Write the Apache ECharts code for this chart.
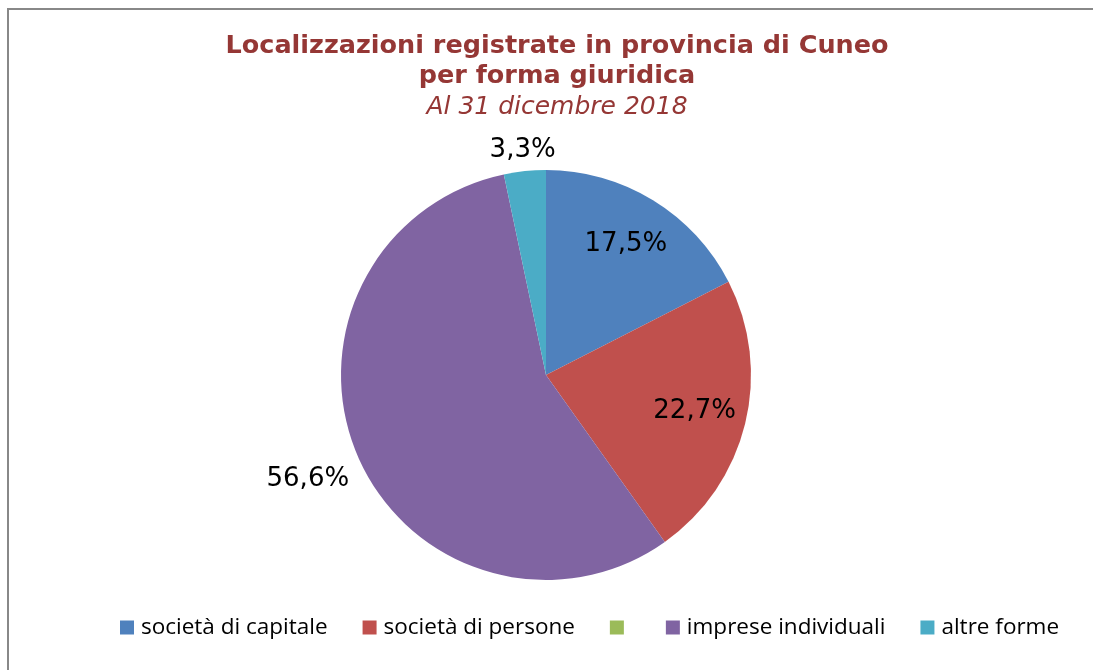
<!DOCTYPE html>
<html>
<head>
<meta charset="utf-8">
<script src="https://cdn.jsdelivr.net/npm/echarts@6/dist/echarts.min.js"></script>
<style>
  html, body { margin: 0; padding: 0; background: #fff; }
  #chart { width: 1093px; height: 670px; }
</style>
</head>
<body>
<div id="chart"></div>
<script>
// dati: localizzazioni per forma giuridica, Cuneo, 31/12/2018
var categories = ['società di capitale', 'società di persone', '\u200b', 'imprese individuali', 'altre forme'];
var values = [17.5, 22.7, 0, 56.6, 3.3];
var sliceLabels = ['17,5%', '22,7%', '', '56,6%', '3,3%'];
var colors = ['#4F81BD', '#C0504D', '#9BBB59', '#8064A2', '#4BACC6'];

var center = [546, 375];
var ghost = 'rgba(0,0,0,0)';

// serie fantasma solo per piazzare le etichette alla distanza giusta
function labelSeries(radius, showIdx) {
  return {
    type: 'pie',
    center: center,
    radius: radius,
    startAngle: 90,
    clockwise: true,
    silent: true,
    z: 3,
    itemStyle: { color: ghost, borderWidth: 0 },
    emphasis: { disabled: true },
    labelLine: { show: false },
    data: categories.map(function (c, i) {
      return {
        name: c,
        value: values[i],
        label: {
          show: showIdx.indexOf(i) >= 0,
          position: 'inside',
          formatter: sliceLabels[i],
          color: '#000',
          fontFamily: 'DejaVu Sans',
          fontSize: 26
        }
      };
    })
  };
}

var chart = echarts.init(document.getElementById('chart'));
var option = {
  animation: false,
  color: colors,
  title: [
    {
      text: 'Localizzazioni registrate in provincia di Cuneo\nper forma giuridica',
      left: 557,
      top: 31,
      padding: 0,
      textAlign: 'center',
      textStyle: {
        fontFamily: 'DejaVu Sans',
        fontWeight: 'bold',
        fontSize: 25.5,
        lineHeight: 30,
        color: '#953735'
      }
    },
    {
      text: 'Al 31 dicembre 2018',
      left: 557,
      top: 92,
      padding: 0,
      textAlign: 'center',
      textStyle: {
        fontFamily: 'DejaVu Sans',
        fontStyle: 'italic',
        fontWeight: 'normal',
        fontSize: 25,
        lineHeight: 30,
        color: '#953735'
      }
    }
  ],
  legend: {
    data: categories,
    left: 115,
    top: 611,
    itemWidth: 14,
    itemHeight: 14,
    itemGap: 35,
    icon: 'rect',
    textStyle: { fontFamily: 'Open Sans', fontSize: 22.5, color: '#000', padding: [0, 0, 0, 2] }
  },
  graphic: [{
    type: 'rect',
    shape: { x: 8, y: 9, width: 1200, height: 800 },
    style: { fill: 'none', stroke: '#888', lineWidth: 2 },
    silent: true
  }],
  series: [
    {
      type: 'pie',
      center: center,
      radius: 205,
      startAngle: 90,
      clockwise: true,
      label: { show: false },
      labelLine: { show: false },
      emphasis: { disabled: true },
      itemStyle: { borderWidth: 0 },
      data: categories.map(function (c, i) { return { name: c, value: values[i] }; })
    },
    labelSeries([100, 200], [0, 1]),
    labelSeries([205, 309], [3]),
    labelSeries([205, 241], [4])
  ]
};
chart.setOption(option);
</script>
</body>
</html>
